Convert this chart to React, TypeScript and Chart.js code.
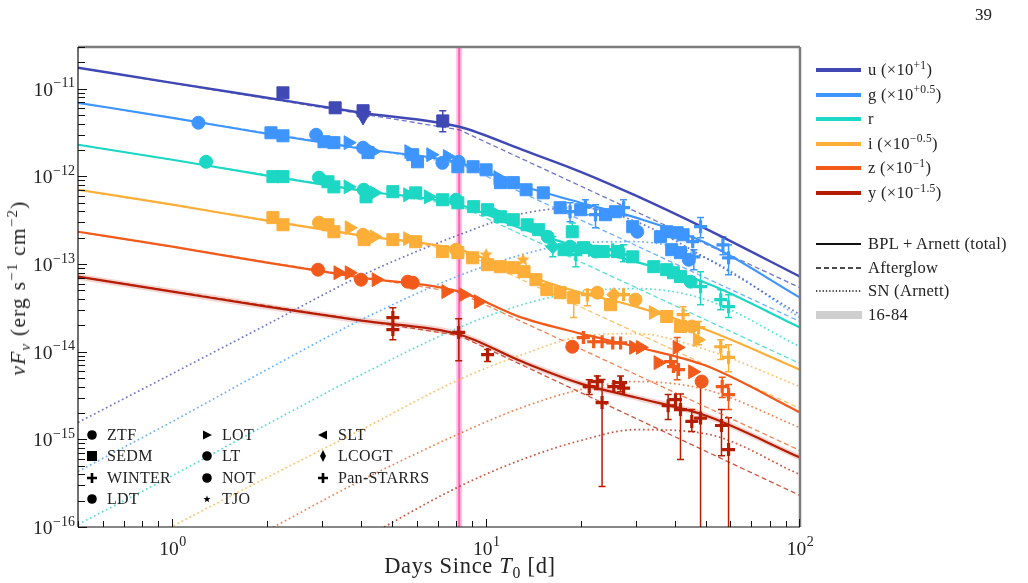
import React, { useEffect, useRef } from "react";
import { Chart, registerables } from "chart.js";

Chart.register(...registerables);

// ---------------- axis ranges ----------------
const X_MIN = 0.5;
const X_MAX = 100;
const Y_MIN = 1e-16;
const Y_MAX = 3e-11;
const T_MARKER = 8.2; // vertical marker (days)
const X_MAJOR = [1, 10, 100];
const Y_MAJOR = [1e-16, 1e-15, 1e-14, 1e-13, 1e-12, 1e-11];

// ---------------- model curves ----------------
const MODEL_T = [0.5, 1, 2, 4, 8.2, 13, 20, 30, 50, 100];
const AFTERGLOW_T = [0.5, 8.2, 100];

const uTotal = [1.74e-11, 1.17e-11, 7.9e-12, 5.33e-12, 3.69e-12, 2.02e-12, 1.13e-12, 6.03e-13, 2.54e-13, 7.2e-14];
const gTotal = [6.93e-12, 4.67e-12, 3.07e-12, 2.07e-12, 1.43e-12, 7.84e-13, 5.0e-13, 3.39e-13, 1.75e-13, 4.14e-14];
const rTotal = [2.3e-12, 1.55e-12, 1.02e-12, 6.87e-13, 4.76e-13, 2.54e-13, 1.54e-13, 1.06e-13, 6.13e-14, 1.89e-14];
const iTotal = [7.05e-13, 4.76e-13, 3.13e-13, 2.11e-13, 1.46e-13, 7.77e-14, 4.72e-14, 3.27e-14, 1.79e-14, 6.25e-15];
const zTotal = [2.34e-13, 1.58e-13, 1.04e-13, 7.0e-14, 4.85e-14, 2.45e-14, 1.61e-14, 1.14e-14, 6.95e-15, 2.03e-15];
const yTotal = [7.19e-14, 4.85e-14, 3.27e-14, 2.26e-14, 1.57e-14, 7.72e-15, 4.33e-15, 3.0e-15, 1.87e-15, 6.2e-16];

const yUpper = [7.77e-14, 5.25e-14, 3.53e-14, 2.45e-14, 1.7e-14, 8.35e-15, 4.69e-15, 3.24e-15, 2.03e-15, 6.71e-16];
const yLower = [6.64e-14, 4.48e-14, 3.02e-14, 2.09e-14, 1.45e-14, 7.13e-15, 4.0e-15, 2.77e-15, 1.73e-15, 5.73e-16];

const uAfterglow = [1.74e-11, 3.41e-12, 5.38e-14];
const gAfterglow = [6.93e-12, 1.4e-12, 2.21e-14];
const rAfterglow = [2.3e-12, 4.64e-13, 7.33e-15];
const iAfterglow = [7.05e-13, 1.42e-13, 2.25e-15];
const zAfterglow = [2.34e-13, 4.72e-14, 7.46e-16];
const yAfterglow = [7.19e-14, 1.53e-14, 2.29e-16];

const uSN = [1.56e-15, 5.63e-15, 2.04e-14, 7.38e-14, 2.16e-13, 3.76e-13, 4.4e-13, 3.05e-13, 1.18e-13, 2.65e-14];
const gSN = [4.3e-16, 1.6e-15, 6.25e-15, 2.32e-14, 7.38e-14, 1.28e-13, 1.75e-13, 1.8e-13, 1.18e-13, 2.45e-14];
const rSN = [1.07e-16, 3.87e-16, 1.48e-15, 5.48e-15, 1.89e-14, 3.44e-14, 4.85e-14, 5.25e-14, 3.93e-14, 1.14e-14];
const iSN = [2.73e-17, 1.02e-16, 3.67e-16, 1.29e-15, 4.81e-15, 9.27e-15, 1.49e-14, 1.61e-14, 1.06e-14, 4.0e-15];
const zSN = [6.6e-18, 2.45e-17, 9.1e-17, 3.4e-16, 1.16e-15, 2.31e-15, 3.7e-15, 4.57e-15, 3.7e-15, 1.36e-15];
const ySN = [1.4e-18, 5.21e-18, 1.94e-17, 7.2e-17, 2.9e-16, 5.88e-16, 9.7e-16, 1.29e-15, 1.16e-15, 3.97e-16];

// ---------------- observations ----------------
const uT = [2.25, 3.3, 4.05, 4.05, 7.27];
const uF = [9.0e-12, 6.07e-12, 5.62e-12, 4.9e-12, 4.3e-12];
const uInst = ["SEDM", "SEDM", "SEDM", "limit", "SEDM"];
const uErrT = [7.27];
const uErrLo = [3.24e-12];
const uErrHi = [5.62e-12];

const gT = [1.21, 2.06, 2.25, 2.87, 3.04, 3.27, 3.63, 4.05, 4.2, 4.35, 5.67, 5.83, 6.04, 6.66, 7.25, 7.52, 8.17, 8.12, 9.08, 9.99, 10.9, 11.1, 12.2, 13.4, 15.2, 17.2, 18.5, 20.0, 20.7, 22.3, 24.0, 25.8, 27.4, 29.3, 30.3, 35.9, 37.6, 40.6, 42.4, 39.0, 41.6, 44.2, 45.9, 45.5, 48.2, 56.8, 59.2];
const gF = [4.1e-12, 3.15e-12, 2.91e-12, 2.99e-12, 2.49e-12, 2.43e-12, 2.43e-12, 2.13e-12, 1.87e-12, 1.92e-12, 1.92e-12, 1.77e-12, 1.47e-12, 1.77e-12, 1.43e-12, 1.69e-12, 1.47e-12, 1.29e-12, 1.29e-12, 1.19e-12, 9.7e-13, 8.5e-13, 8.5e-13, 7.05e-13, 6.5e-13, 4.4e-13, 3.96e-13, 4.17e-13, 4.5e-13, 3.66e-13, 3.66e-13, 3.96e-13, 4.4e-13, 2.67e-13, 2.34e-13, 2.05e-13, 2.34e-13, 2.28e-13, 2.16e-13, 1.46e-13, 1.35e-13, 1.12e-13, 1.21e-13, 1.8e-13, 2.67e-13, 1.66e-13, 1.18e-13];
const gInst = ["ZTF", "SEDM", "SEDM", "LT", "SEDM", "SEDM", "LOT", "LDT", "SEDM", "LOT", "LOT", "SEDM", "SEDM", "LOT", "NOT", "LOT", "LT", "SEDM", "SEDM", "SEDM", "LOT", "SEDM", "SEDM", "SEDM", "SEDM", "SEDM", "Pan-STARRS", "SEDM", "Pan-STARRS", "Pan-STARRS", "SEDM", "SEDM", "Pan-STARRS", "SEDM", "LT", "SEDM", "SEDM", "SEDM", "SEDM", "SEDM", "SEDM", "LT", "Pan-STARRS", "Pan-STARRS", "Pan-STARRS", "Pan-STARRS", "Pan-STARRS"];
const gErrT = [18.5, 20.7, 22.3, 27.4, 45.9, 48.2, 56.8, 59.2];
const gErrLo = [3.05e-13, 3.66e-13, 2.6e-13, 3.57e-13, 8.63e-14, 2.0e-13, 1.28e-13, 7.57e-14];
const gErrHi = [5.0e-13, 5.42e-13, 4.76e-13, 5.42e-13, 1.46e-13, 3.39e-13, 2.05e-13, 1.66e-13];

const rT = [1.28, 2.09, 2.25, 2.93, 3.13, 3.27, 3.63, 4.07, 4.14, 4.39, 5.04, 5.62, 5.96, 6.55, 7.26, 8.01, 8.12, 9.12, 10.1, 10.9, 11.1, 12.2, 13.5, 14.7, 15.7, 16.3, 17.7, 18.8, 18.5, 19.3, 20.4, 21.8, 22.3, 23.6, 25.3, 26.2, 27.4, 29.3, 34.2, 37.6, 39.5, 41.6, 44.8, 48.2, 55.9, 59.2];
const rF = [1.47e-12, 9.95e-13, 9.95e-13, 9.7e-13, 8.7e-13, 7.6e-13, 7.6e-13, 7.05e-13, 5.85e-13, 6.5e-13, 6.7e-13, 6.18e-13, 6.5e-13, 5.85e-13, 5.42e-13, 5.42e-13, 5.0e-13, 4.52e-13, 4.17e-13, 3.66e-13, 3.47e-13, 3.21e-13, 2.81e-13, 2.47e-13, 2.05e-13, 1.58e-13, 1.46e-13, 2.34e-13, 1.58e-13, 1.28e-13, 1.54e-13, 1.46e-13, 1.39e-13, 1.39e-13, 1.46e-13, 1.39e-13, 1.28e-13, 1.21e-13, 9.34e-14, 8.63e-14, 7.97e-14, 7.2e-14, 6.3e-14, 5.53e-14, 3.93e-14, 3.27e-14];
const rInst = ["ZTF", "SEDM", "SEDM", "LT", "SEDM", "SEDM", "LOT", "LDT", "SEDM", "LOT", "SEDM", "LOT", "SEDM", "LOT", "SEDM", "LT", "SEDM", "SEDM", "SEDM", "LOT", "SEDM", "SEDM", "SEDM", "SEDM", "LT", "LCOGT", "SEDM", "SEDM", "LT", "Pan-STARRS", "SEDM", "LOT", "LT", "SEDM", "Pan-STARRS", "SEDM", "Pan-STARRS", "SEDM", "SEDM", "SEDM", "SEDM", "SEDM", "LT", "Pan-STARRS", "Pan-STARRS", "Pan-STARRS"];
const rErrT = [16.3, 18.8, 19.3, 27.4, 48.2, 55.9, 59.2];
const rErrLo = [1.21e-13, 2.34e-13, 9.3e-14, 1.06e-13, 3.44e-14, 3.02e-14, 2.45e-14];
const rErrHi = [2.05e-13, 2.95e-13, 1.66e-13, 1.66e-13, 8.2e-14, 5.11e-14, 4.48e-14];

const iT = [2.09, 2.25, 2.93, 3.13, 3.27, 3.66, 4.05, 4.08, 4.39, 5.04, 5.62, 5.96, 7.26, 8.01, 8.12, 9.05, 9.99, 10.1, 11.1, 12.2, 13.1, 13.2, 14.4, 15.6, 17.2, 19.0, 21.0, 22.6, 24.9, 25.5, 27.4, 29.9, 34.1, 37.6, 41.6, 42.4, 45.2, 47.5, 47.1, 55.9, 59.2];
const iF = [3.39e-13, 2.81e-13, 2.97e-13, 2.81e-13, 2.34e-13, 2.6e-13, 2.16e-13, 1.9e-13, 2.05e-13, 1.9e-13, 1.95e-13, 1.8e-13, 1.39e-13, 1.46e-13, 1.35e-13, 1.18e-13, 1.28e-13, 9.84e-14, 9.34e-14, 9.1e-14, 1.12e-13, 8.2e-14, 6.64e-14, 5.11e-14, 4.72e-14, 4.14e-14, 4.48e-14, 4.72e-14, 3.44e-14, 4.48e-14, 4.48e-14, 3.93e-14, 2.8e-14, 2.52e-14, 1.94e-14, 2.65e-14, 1.94e-14, 1.89e-14, 1.37e-14, 1.14e-14, 8.6e-15];
const iInst = ["SEDM", "SEDM", "LT", "SEDM", "SEDM", "LOT", "LDT", "SEDM", "LOT", "SEDM", "LOT", "SEDM", "SEDM", "LT", "SEDM", "SEDM", "TJO", "SEDM", "SEDM", "SEDM", "TJO", "SEDM", "SEDM", "SEDM", "SEDM", "SEDM", "Pan-STARRS", "LT", "SEDM", "LCOGT", "Pan-STARRS", "LT", "LOT", "SEDM", "SEDM", "Pan-STARRS", "LT", "Pan-STARRS", "LOT", "Pan-STARRS", "Pan-STARRS"];
const iErrT = [19.0, 21.0, 42.4, 47.5, 55.9, 59.2];
const iErrLo = [2.45e-14, 3.35e-14, 2.21e-14, 1.2e-14, 8.13e-15, 5.9e-15];
const iErrHi = [4.14e-14, 5.11e-14, 3.27e-14, 2.21e-14, 1.37e-14, 1.2e-14];

const zT = [2.91, 3.37, 3.66, 3.99, 4.46, 5.62, 5.83, 7.44, 8.46, 9.45, 18.8, 20.4, 22.0, 23.4, 25.3, 26.8, 29.5, 31.0, 35.3, 38.7, 39.5, 41.0, 40.6, 45.5, 48.6, 56.5, 59.2];
const zF = [8.63e-14, 7.97e-14, 7.97e-14, 6.64e-14, 6.64e-14, 6.3e-14, 6.13e-14, 4.85e-14, 4.48e-14, 3.72e-14, 1.14e-14, 1.45e-14, 1.3e-14, 1.3e-14, 1.26e-14, 1.26e-14, 1.12e-14, 1.12e-14, 7.5e-15, 7.72e-15, 6.77e-15, 6.25e-15, 1.12e-14, 5.9e-15, 4.57e-15, 4.0e-15, 3.24e-15];
const zInst = ["LT", "LOT", "LOT", "LDT", "LOT", "NOT", "LT", "LOT", "LOT", "LOT", "LT", "Pan-STARRS", "Pan-STARRS", "Pan-STARRS", "Pan-STARRS", "Pan-STARRS", "LOT", "LOT", "LOT", "Pan-STARRS", "Pan-STARRS", "Pan-STARRS", "LOT", "LOT", "NOT", "Pan-STARRS", "Pan-STARRS"];
const zErrT = [40.6, 56.5, 59.2];
const zErrLo = [4.8e-15, 3.0e-15, 2.19e-15];
const zErrHi = [1.45e-14, 5.1e-15, 4.22e-15];

const yT = [5.04, 5.04, 8.17, 10.1, 21.3, 22.6, 23.4, 25.5, 26.8, 27.4, 38.0, 40.1, 41.6, 45.2, 48.2, 56.2, 59.2];
const yF = [2.45e-14, 1.79e-14, 1.66e-14, 9.27e-15, 4.0e-15, 4.57e-15, 2.63e-15, 4.0e-15, 4.45e-15, 3.85e-15, 2.42e-15, 2.84e-15, 2.19e-15, 1.6e-15, 1.75e-15, 1.44e-15, 7.65e-16];
const yInst = ["WINTER", "WINTER", "WINTER", "WINTER", "Pan-STARRS", "Pan-STARRS", "Pan-STARRS", "Pan-STARRS", "Pan-STARRS", "Pan-STARRS", "Pan-STARRS", "Pan-STARRS", "Pan-STARRS", "Pan-STARRS", "Pan-STARRS", "Pan-STARRS", "Pan-STARRS"];
const yErrT = [5.04, 8.17, 10.1, 21.3, 22.6, 23.4, 26.8, 38.0, 41.6, 45.2, 48.2, 56.2, 59.2];
const yErrLo = [1.37e-14, 7.9e-15, 7.72e-15, 3.24e-15, 3.7e-15, 2.9e-16, 3.5e-15, 1.68e-15, 5.88e-16, 1.23e-15, 7.2e-17, 6.5e-16, 4.3e-17];
const yErrHi = [3.18e-14, 2.38e-14, 1.06e-14, 4.8e-15, 5.3e-15, 4.81e-15, 5.3e-15, 3.24e-15, 3.3e-15, 2.19e-15, 4.0e-15, 2.19e-15, 1.77e-15];

// ---------------- styling ----------------
const COLORS: Record<string, string> = {
  u: "#3f48b3",
  g: "#3e95ff",
  r: "#1cd7c4",
  i: "#fdae38",
  z: "#f25a1b",
  y: "#b51d02",
};
const SOFT: Record<string, string> = {
  u: "rgba(63,72,179,0.75)",
  g: "rgba(62,149,255,0.75)",
  r: "rgba(28,215,196,0.75)",
  i: "rgba(253,174,56,0.75)",
  z: "rgba(242,90,27,0.75)",
  y: "rgba(181,29,2,0.75)",
};

const BANDS = [
  { key: "u", total: uTotal, ag: uAfterglow, sn: uSN, t: uT, f: uF, inst: uInst, eT: uErrT, eLo: uErrLo, eHi: uErrHi, exp: "+1" },
  { key: "g", total: gTotal, ag: gAfterglow, sn: gSN, t: gT, f: gF, inst: gInst, eT: gErrT, eLo: gErrLo, eHi: gErrHi, exp: "+0.5" },
  { key: "r", total: rTotal, ag: rAfterglow, sn: rSN, t: rT, f: rF, inst: rInst, eT: rErrT, eLo: rErrLo, eHi: rErrHi, exp: "" },
  { key: "i", total: iTotal, ag: iAfterglow, sn: iSN, t: iT, f: iF, inst: iInst, eT: iErrT, eLo: iErrLo, eHi: iErrHi, exp: "\u22120.5" },
  { key: "z", total: zTotal, ag: zAfterglow, sn: zSN, t: zT, f: zF, inst: zInst, eT: zErrT, eLo: zErrLo, eHi: zErrHi, exp: "\u22121" },
  { key: "y", total: yTotal, ag: yAfterglow, sn: ySN, t: yT, f: yF, inst: yInst, eT: yErrT, eLo: yErrLo, eHi: yErrHi, exp: "\u22121.5" },
];

type MK = { style: string; radius: number; rot: number; bw: number };
const MARKERS: Record<string, MK> = {
  ZTF: { style: "circle", radius: 6.5, rot: 0, bw: 1 },
  SEDM: { style: "rect", radius: 8.5, rot: 0, bw: 1 },
  WINTER: { style: "cross", radius: 6.5, rot: 0, bw: 3.2 },
  LDT: { style: "circle", radius: 6.5, rot: 0, bw: 1 },
  LOT: { style: "triangle", radius: 8, rot: 90, bw: 1 },
  LT: { style: "circle", radius: 6.5, rot: 0, bw: 1 },
  NOT: { style: "circle", radius: 6.5, rot: 0, bw: 1 },
  TJO: { style: "star", radius: 7, rot: 0, bw: 1 },
  SLT: { style: "triangle", radius: 8, rot: -90, bw: 1 },
  LCOGT: { style: "rectRot", radius: 7, rot: 0, bw: 1 },
  "Pan-STARRS": { style: "cross", radius: 6.5, rot: 0, bw: 3.2 },
  limit: { style: "triangle", radius: 9, rot: 180, bw: 1 },
};

const SERIF = '"Liberation Serif", "DejaVu Serif", serif';

function makeStar(color: string, r: number): HTMLCanvasElement {
  const c = document.createElement("canvas");
  const s = Math.ceil(r * 2 + 2);
  c.width = s;
  c.height = s;
  const g = c.getContext("2d")!;
  g.fillStyle = color;
  g.beginPath();
  for (let k = 0; k < 10; k++) {
    const ang = -Math.PI / 2 + (k * Math.PI) / 5;
    const rr = k % 2 ? r * 0.45 : r;
    g.lineTo(s / 2 + rr * Math.cos(ang), s / 2 + rr * Math.sin(ang));
  }
  g.closePath();
  g.fill();
  return c;
}

function expLabel(v: number): string {
  const e = Math.round(Math.log10(v));
  return e < 0 ? "\u2212" + String(-e) : String(e);
}

const markerLinePlugin = {
  id: "markerAndErrors",
  beforeDatasetsDraw(chart: any) {
    const { ctx, chartArea: a, scales } = chart;
    const xs = scales.x;
    const ys = scales.y;
    ctx.save();
    ctx.beginPath();
    ctx.rect(a.left, a.top, a.right - a.left, a.bottom - a.top);
    ctx.clip();
    const px = xs.getPixelForValue(T_MARKER);
    ctx.fillStyle = "rgba(255,120,190,0.45)";
    ctx.fillRect(px - 3, a.top, 6, a.bottom - a.top);
    ctx.strokeStyle = "#ff62b0";
    ctx.lineWidth = 2;
    ctx.beginPath();
    ctx.moveTo(px, a.top);
    ctx.lineTo(px, a.bottom);
    ctx.stroke();
    for (const b of BANDS) {
      ctx.strokeStyle = COLORS[b.key];
      ctx.lineWidth = 1.5;
      b.eT.forEach((t: number, k: number) => {
        const x = xs.getPixelForValue(t);
        const y1 = ys.getPixelForValue(b.eHi[k]);
        const y2 = ys.getPixelForValue(b.eLo[k]);
        ctx.beginPath();
        ctx.moveTo(x, y1);
        ctx.lineTo(x, y2);
        ctx.moveTo(x - 3.5, y1);
        ctx.lineTo(x + 3.5, y1);
        ctx.moveTo(x - 3.5, y2);
        ctx.lineTo(x + 3.5, y2);
        ctx.stroke();
      });
    }
    ctx.restore();
  },
};

const axesPlugin = {
  id: "axesFrame",
  afterDraw(chart: any) {
    const { ctx, chartArea: a, scales } = chart;
    const xs = scales.x;
    const ys = scales.y;
    const seg = (x1: number, y1: number, x2: number, y2: number) => {
      ctx.beginPath();
      ctx.moveTo(x1, y1);
      ctx.lineTo(x2, y2);
      ctx.stroke();
    };
    ctx.save();
    ctx.strokeStyle = "#7d7d7d";
    ctx.lineWidth = 2.5;
    seg(a.left, a.top, a.right, a.top);
    seg(a.right, a.top, a.right, a.bottom);
    ctx.strokeStyle = "#111";
    ctx.lineWidth = 1.2;
    seg(a.left, a.top, a.left, a.bottom);
    seg(a.left, a.bottom, a.right, a.bottom);
    ctx.lineWidth = 1;
    for (const d of [0.1, 1, 10]) {
      for (let m = 1; m <= 9; m++) {
        const v = d * m;
        if (v < X_MIN * 0.999 || v > X_MAX * 1.001) continue;
        const p = Math.round(xs.getPixelForValue(v)) + 0.5;
        seg(p, a.bottom, p, a.bottom - (m === 1 ? 8 : 6));
      }
    }
    if (X_MAX === 100) {
      const p = Math.round(xs.getPixelForValue(100)) - 0.5;
      seg(p, a.bottom, p, a.bottom - 8);
    }
    for (let e = -17; e <= -11; e++) {
      for (let m = 1; m <= 9; m++) {
        const v = m * Math.pow(10, e);
        if (v < Y_MIN * 0.999 || v > Y_MAX * 1.001) continue;
        const p = Math.round(ys.getPixelForValue(v)) + 0.5;
        seg(a.left, p, a.left + (m === 1 ? 9 : 7), p);
      }
    }
    ctx.fillStyle = "#222";
    ctx.textBaseline = "alphabetic";
    const big = `19.5px ${SERIF}`;
    const small = `14px ${SERIF}`;
    for (const v of X_MAJOR) {
      const p = xs.getPixelForValue(v);
      const ex = expLabel(v);
      ctx.font = big;
      const w1 = ctx.measureText("10").width;
      ctx.font = small;
      const w2 = ctx.measureText(ex).width;
      const x0 = p - (w1 + w2) / 2;
      ctx.font = big;
      ctx.textAlign = "left";
      ctx.fillText("10", x0, a.bottom + 28);
      ctx.font = small;
      ctx.fillText(ex, x0 + w1 + 0.5, a.bottom + 19);
    }
    for (const v of Y_MAJOR) {
      const p = ys.getPixelForValue(v);
      const ex = expLabel(v);
      ctx.font = small;
      const w2 = ctx.measureText(ex).width;
      ctx.font = big;
      const w1 = ctx.measureText("10").width;
      const right = a.left - 3;
      ctx.textAlign = "left";
      ctx.fillText("10", right - w2 - w1 - 0.5, p + 7);
      ctx.font = small;
      ctx.fillText(ex, right - w2, p - 1.5);
    }
    ctx.restore();
  },
};

function buildDatasets(): any[] {
  const ds: any[] = [];
  ds.push({
    data: MODEL_T.map((t, i) => ({ x: t, y: yUpper[i] })),
    borderWidth: 0,
    pointRadius: 0,
    fill: "+1",
    backgroundColor: "rgba(200,60,40,0.22)",
    cubicInterpolationMode: "monotone",
    order: 6,
  });
  ds.push({
    data: MODEL_T.map((t, i) => ({ x: t, y: yLower[i] })),
    borderWidth: 0,
    pointRadius: 0,
    fill: false,
    cubicInterpolationMode: "monotone",
    order: 6,
  });
  for (const b of BANDS) {
    const c = COLORS[b.key];
    ds.push({
      data: AFTERGLOW_T.map((t, i) => ({ x: t, y: b.ag[i] })),
      borderColor: SOFT[b.key],
      borderWidth: 1.3,
      borderDash: [5, 3],
      pointRadius: 0,
      tension: 0,
      fill: false,
      order: 5,
    });
    ds.push({
      data: MODEL_T.map((t, i) => ({ x: t, y: b.sn[i] })),
      borderColor: SOFT[b.key],
      borderWidth: 1.7,
      borderDash: [1.7, 2.8],
      pointRadius: 0,
      cubicInterpolationMode: "monotone",
      fill: false,
      order: 5,
    });
    ds.push({
      data: MODEL_T.map((t, i) => ({ x: t, y: b.total[i] })),
      borderColor: c,
      borderWidth: b.key === "u" ? 2.4 : 2.2,
      pointRadius: 0,
      cubicInterpolationMode: "monotone",
      fill: false,
      order: 4,
    });
  }
  for (const b of BANDS) {
    const c = COLORS[b.key];
    const star = makeStar(c, 7);
    const mk = (k: string) => MARKERS[k] || MARKERS.SEDM;
    ds.push({
      data: b.t.map((t: number, i: number) => ({ x: t, y: b.f[i] })),
      showLine: false,
      pointStyle: b.t.map((_: number, i: number) => (mk(b.inst[i]).style === "star" ? star : mk(b.inst[i]).style)),
      pointRadius: b.t.map((_: number, i: number) => mk(b.inst[i]).radius),
      pointRotation: b.t.map((_: number, i: number) => mk(b.inst[i]).rot),
      pointBorderWidth: b.t.map((_: number, i: number) => mk(b.inst[i]).bw),
      pointBackgroundColor: c,
      pointBorderColor: c,
      order: 1,
    });
  }
  return ds;
}

function Sup({ children }: { children: any }) {
  return <span style={{ fontSize: "0.7em", position: "relative", top: "-0.55em" }}>{children}</span>;
}

function MarkerIcon({ kind }: { kind: string }) {
  const k = "#000";
  let shape: any = null;
  switch (kind) {
    case "SEDM":
      shape = <rect x={1} y={1} width={10} height={10} fill={k} />;
      break;
    case "WINTER":
    case "Pan-STARRS":
      shape = <path d="M6 1 V11 M1 6 H11" stroke={k} strokeWidth={2.6} />;
      break;
    case "LOT":
      shape = <polygon points="2,1.5 11,6 2,10.5" fill={k} />;
      break;
    case "SLT":
      shape = <polygon points="10,1.5 1,6 10,10.5" fill={k} />;
      break;
    case "LCOGT":
      shape = <polygon points="6,0 9,6 6,12 3,6" fill={k} />;
      break;
    case "TJO":
      shape = <polygon points="6,2.5 6.9,5.1 9.5,5.1 7.4,6.7 8.2,9.3 6,7.7 3.8,9.3 4.6,6.7 2.5,5.1 5.1,5.1" fill={k} />;
      break;
    default:
      shape = <circle cx={6} cy={6} r={4.8} fill={k} />;
  }
  return (
    <svg width={12} height={12} style={{ position: "absolute", left: -6, top: -6 }}>
      {shape}
    </svg>
  );
}

const INSTR_COLS = [
  ["ZTF", "SEDM", "WINTER", "LDT"],
  ["LOT", "LT", "NOT", "TJO"],
  ["SLT", "LCOGT", "Pan-STARRS"],
];

export default function App() {
  const ref = useRef<HTMLCanvasElement>(null);
  useEffect(() => {
    if (!ref.current) return;
    const chart = new Chart(ref.current, {
      type: "line",
      data: { datasets: buildDatasets() },
      options: {
        responsive: false,
        animation: false,
        events: [],
        layout: { padding: { left: 78, top: 47, right: 228, bottom: 56 } },
        scales: {
          x: { type: "logarithmic", min: X_MIN, max: X_MAX, display: false },
          y: { type: "logarithmic", min: Y_MIN, max: Y_MAX, display: false },
        },
        plugins: { legend: { display: false }, tooltip: { enabled: false } },
      } as any,
      plugins: [markerLinePlugin, axesPlugin],
    });
    return () => chart.destroy();
  }, []);

  const legendRowsA = BANDS.map((b, i) => ({ b, cy: 70 + i * 24.6 }));
  const modelRows = [
    { label: "BPL + Arnett (total)", kind: "solid", cy: 244 },
    { label: "Afterglow", kind: "dash", cy: 268 },
    { label: "SN (Arnett)", kind: "dot", cy: 291 },
    { label: "16-84", kind: "band", cy: 315 },
  ];

  return (
    <div
      style={{
        position: "fixed",
        left: 0,
        top: 0,
        width: 1028,
        height: 583,
        background: "#fff",
        fontFamily: SERIF,
        color: "#222",
        overflow: "hidden",
      }}
    >
      <canvas ref={ref} width={1028} height={583} style={{ position: "absolute", left: 0, top: 0, width: 1028, height: 583 }} />
      <div style={{ position: "absolute", left: 975, top: 5, fontSize: 17 }}>39</div>
      <div
        style={{
          position: "absolute",
          left: 470,
          top: 566,
          transform: "translate(-50%, -50%)",
          fontSize: 22.5,
          whiteSpace: "nowrap",
          letterSpacing: 0.7,
        }}
      >
        Days Since <i>T</i>
        <span style={{ fontSize: "0.7em", position: "relative", top: "0.3em" }}>0</span> [d]
      </div>
      <div
        style={{
          position: "absolute",
          left: 19,
          top: 288,
          transform: "translate(-50%, -50%) rotate(-90deg)",
          fontSize: 21.5,
          lineHeight: "24px",
          whiteSpace: "nowrap",
          letterSpacing: 1.2,
        }}
      >
        <i>νF</i>
        <span style={{ fontSize: "0.7em", position: "relative", top: "0.3em" }}>
          <i>ν</i>
        </span>{" "}
        (erg s<Sup>−1</Sup> cm<Sup>−2</Sup>)
      </div>
      {legendRowsA.map(({ b, cy }) => (
        <div key={b.key} style={{ position: "absolute", left: 816, top: cy - 11, height: 22, display: "flex", alignItems: "center" }}>
          <svg width={46} height={22}>
            <line x1={0} x2={45} y1={11} y2={11} stroke={COLORS[b.key]} strokeWidth={4} />
          </svg>
          <span style={{ marginLeft: 6, fontSize: 16.5, letterSpacing: 0.3, whiteSpace: "nowrap" }}>
            {b.key}
            {b.exp ? (
              <>
                {" "}
                (×10<Sup>{b.exp}</Sup>)
              </>
            ) : null}
          </span>
        </div>
      ))}
      {modelRows.map((m) => (
        <div key={m.label} style={{ position: "absolute", left: 816, top: m.cy - 11, height: 22, display: "flex", alignItems: "center" }}>
          <svg width={46} height={22}>
            {m.kind === "solid" && <line x1={0} x2={45} y1={11} y2={11} stroke="#111" strokeWidth={2} />}
            {m.kind === "dash" && <line x1={0} x2={45} y1={11} y2={11} stroke="#111" strokeWidth={1.3} strokeDasharray="5 3" />}
            {m.kind === "dot" && <line x1={0} x2={45} y1={11} y2={11} stroke="#111" strokeWidth={1.3} strokeDasharray="1.3 2" />}
            {m.kind === "band" && <rect x={-2} y={7} width={48} height={8} fill="#cfcfcf" />}
          </svg>
          <span style={{ marginLeft: 6, fontSize: 16.5, letterSpacing: 0.3, whiteSpace: "nowrap" }}>{m.label}</span>
        </div>
      ))}
      {INSTR_COLS.map((col, ci) =>
        col.map((name, ri) => {
          const mx = [92, 207, 323][ci];
          const my = [435, 456, 478, 499][ri];
          return (
            <div key={name}>
              <div style={{ position: "absolute", left: mx, top: my }}>
                <MarkerIcon kind={name} />
              </div>
              <div
                style={{
                  position: "absolute",
                  left: mx + 15,
                  top: my - 11,
                  height: 22,
                  lineHeight: "22px",
                  fontSize: 16,
                  letterSpacing: 0.3,
                  whiteSpace: "nowrap",
                }}
              >
                {name}
              </div>
            </div>
          );
        })
      )}
    </div>
  );
}
